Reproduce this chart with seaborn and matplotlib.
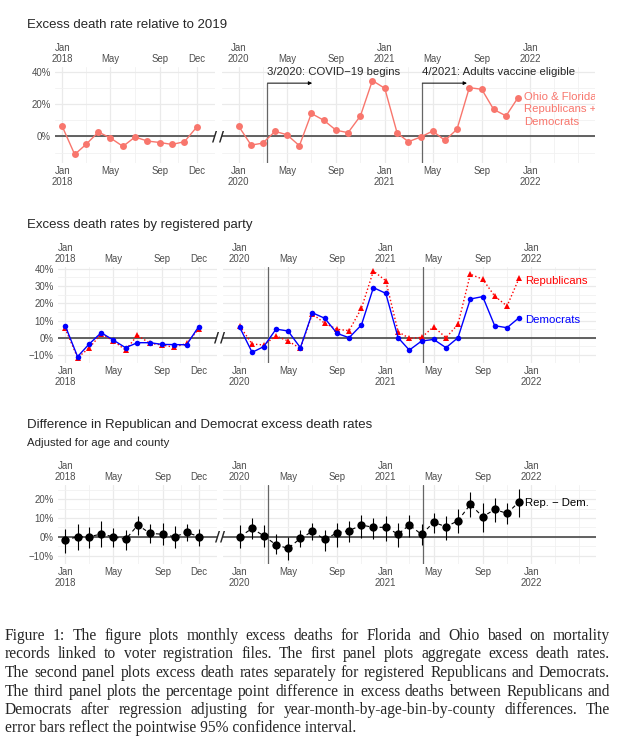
import matplotlib
matplotlib.use("Agg")
import matplotlib.pyplot as plt
import matplotlib.dates as mdates
from matplotlib.transforms import blended_transform_factory, ScaledTranslation
import seaborn as sns
import pandas as pd

W, H = 635, 750

# months shown in the two halves of every panel
months_2018 = pd.date_range("2018-01-01", periods=12, freq="MS")
months_2020 = pd.date_range("2020-01-01", periods=24, freq="MS")

# panel 1: all registered voters, excess deaths vs 2019 (%)
total_2018 = [6.2, -11.2, -5.0, 2.7, -1.0, -6.2, -0.4, -2.9, -3.8, -5.0, -3.3, 5.6]
total_2020 = [6.2, -5.4, -4.2, 3.1, 1.0, -5.8, 14.2, 10.0, 3.8, 2.3, 12.7, 34.6,
              29.8, 2.1, -3.3, -0.4, 3.3, -2.5, 4.4, 30.2, 29.2, 16.7, 12.7, 24.0]

# panel 2: by party (%)
dem_2018 = [7.0, -11.0, -3.9, 2.9, -1.3, -5.8, -2.9, -2.9, -3.9, -4.0, -4.1, 6.4]
rep_2018 = [5.4, -11.6, -6.2, 2.1, -1.7, -7.2, 1.4, -3.3, -4.2, -5.6, -3.3, 5.0]
dem_2020 = [6.0, -8.5, -5.2, 5.0, 3.9, -5.8, 14.5, 11.3, 2.5, 0.0, 7.4, 29.1,
            25.8, 0.0, -7.2, -1.9, -1.0, -5.8, 0.0, 22.5, 23.9, 7.0, 5.8, 11.6]
rep_2020 = [6.8, -3.7, -4.2, 1.0, -1.9, -6.2, 13.8, 8.4, 4.9, 4.1, 17.1, 38.8,
            33.1, 3.5, -0.4, 0.2, 6.4, 0.0, 7.8, 36.9, 34.0, 24.2, 18.4, 34.5]

# panel 3: Rep - Dem difference with 95% CI (pp)
diff_2018 = [-1.8, 0.0, 0.0, 1.4, 0.0, -1.4, 6.2, 1.8, 1.3, 0.0, 2.3, 0.0]
lo_2018 = [-8.5, -7.1, -5.9, -5.3, -5.3, -7.1, 0.9, -3.5, -4.4, -5.9, -2.3, -4.8]
hi_2018 = [4.1, 6.6, 5.0, 8.5, 4.4, 3.5, 11.2, 6.6, 7.1, 5.9, 6.7, 4.1]
diff_2020 = [0.0, 4.4, 0.5, -4.3, -6.2, -0.9, 2.8, -1.4, 2.1, 3.2, 6.2, 5.0,
             5.0, 1.4, 6.2, 1.2, 7.7, 5.3, 8.5, 17.2, 10.6, 14.5, 12.4, 18.5]
lo_2020 = [-6.2, -1.1, -5.3, -9.4, -12.4, -5.7, -1.8, -7.5, -5.3, -3.0, -0.5, -1.2,
           -2.3, -5.3, 0.0, -4.5, 1.8, -1.8, 2.1, 10.3, 2.7, 7.7, 6.6, 10.5]
hi_2020 = [6.2, 9.7, 6.2, 1.6, 0.0, 3.5, 7.1, 3.5, 7.1, 8.2, 11.3, 10.2,
           10.8, 7.1, 11.3, 7.0, 12.8, 10.8, 14.5, 23.6, 18.1, 20.4, 18.1, 25.6]

covid_start = pd.Timestamp("2020-03-13")
vaccine_start = pd.Timestamp("2021-04-05")
arrow_days = 112
arrow_y = 33

left_ticks = ["2018-01-01", "2018-05-01", "2018-09-01", "2018-12-01"]
left_labels = ["Jan\n2018", "May", "Sep", "Dec"]
left_minor = ["2018-03-01", "2018-07-01", "2018-10-16"]
right_ticks = ["2020-01-01", "2020-05-01", "2020-09-01", "2021-01-01",
               "2021-05-01", "2021-09-01", "2022-01-01"]
right_labels = ["Jan\n2020", "May", "Sep", "Jan\n2021", "May", "Sep", "Jan\n2022"]
right_minor = ["2020-03-01", "2020-07-01", "2020-11-01", "2021-03-01",
               "2021-07-01", "2021-11-01", "2022-03-01", "2022-05-01"]
left_lim = ("2017-12-14", "2019-01-16")
right_lim = ("2019-11-20", "2022-06-12")

caption = [
    "Figure 1: The figure plots monthly excess deaths for Florida and Ohio based on mortality",
    "records linked to voter registration files. The first panel plots aggregate excess death rates.",
    "The second panel plots excess death rates separately for registered Republicans and Democrats.",
    "The third panel plots the percentage point difference in excess deaths between Republicans and",
    "Democrats after regression adjusting for year-month-by-age-bin-by-county differences. The",
    "error bars reflect the pointwise 95% confidence interval.",
]

sns.set_style("white")
plt.rcParams["font.family"] = ["Liberation Sans", "DejaVu Sans"]
plt.rcParams["axes.unicode_minus"] = True

TXT = "#4D4D4D"
SALMON = "#F8766D"

fig = plt.figure(figsize=(W / 100, H / 100), dpi=100)


def box(x0, x1, y0, y1):
    return [x0 / W, 1 - y1 / H, (x1 - x0) / W, (y1 - y0) / H]


def dn(d):
    return mdates.date2num(pd.to_datetime(d))


def pct(v):
    return f"{v}%".replace("-", "\u2212")


def style(ax, lim, ticks, labels, minor, ylim, yticks, yminor, ylabels):
    ax.set_xlim(dn(lim[0]), dn(lim[1]))
    ax.set_ylim(*ylim)
    ax.set_xticks(dn(ticks))
    ax.set_xticklabels(labels)
    ax.set_xticks(dn(minor), minor=True)
    ax.set_yticks(yticks)
    ax.set_yticks(yminor, minor=True)
    ax.set_yticklabels([pct(v) for v in yticks] if ylabels else [])
    ax.tick_params(which="both", length=0, labelsize=6.9, labelcolor=TXT)
    ax.tick_params(axis="x", labeltop=True, labelbottom=True, pad=2.3)
    ax.tick_params(axis="y", pad=3)
    for t in ax.xaxis.get_major_ticks():
        t.label1.set_linespacing(1.12)
        t.label2.set_linespacing(1.12)
    ax.grid(which="major", color="#EAEAEA", lw=0.9)
    ax.grid(which="minor", color="#F1F1F1", lw=0.6)
    ax.set_axisbelow(True)
    for s in ax.spines.values():
        s.set_visible(False)
    ax.set_xlabel("")
    ax.set_ylabel("")
    ax.axhline(0, color="#555555", lw=1.3, zorder=1.5)


def breaks(axl, axr):
    for ax, xa in [(axl, 1.0), (axr, 0.0)]:
        tr = blended_transform_factory(ax.transAxes, ax.transData)
        ax.text(xa, 0, "/", transform=tr, ha="center", va="center", fontsize=10,
                fontweight="bold", family="DejaVu Sans", clip_on=False, zorder=5)


def end_label(ax, date, val, text, color, dx, dy, va, ls=1.2):
    tr = ax.transData + ScaledTranslation(dx / 72, dy / 72, fig.dpi_scale_trans)
    ax.text(dn(date), val, text, transform=tr, color=color, fontsize=8.2,
            ha="left", va=va, linespacing=ls, clip_on=True)


# ---------------- panel 1
ylim1 = (-16.5, 43)
a1l = fig.add_axes(box(55, 215, 67, 163))
a1r = fig.add_axes(box(222, 595, 67, 163))
sns.lineplot(x=months_2018, y=total_2018, ax=a1l, color=SALMON, marker="o",
             markersize=5, markeredgewidth=0, lw=1.0)
sns.lineplot(x=months_2020, y=total_2020, ax=a1r, color=SALMON, marker="o",
             markersize=5, markeredgewidth=0, lw=1.0)
style(a1l, left_lim, left_ticks, left_labels, left_minor, ylim1, [0, 20, 40], [-10, 10, 30], True)
style(a1r, right_lim, right_ticks, right_labels, right_minor, ylim1, [0, 20, 40], [-10, 10, 30], False)
breaks(a1l, a1r)
for ev, txt in [(covid_start, "3/2020: COVID\u221219 begins"),
                (vaccine_start, "4/2021: Adults vaccine eligible")]:
    a1r.vlines(dn(ev), ylim1[0], arrow_y, color="#666666", lw=0.9, zorder=1.6)
    a1r.annotate("", xy=(dn(ev + pd.Timedelta(days=arrow_days)), arrow_y),
                 xytext=(dn(ev), arrow_y),
                 arrowprops=dict(arrowstyle="-|>", lw=0.7, color="black",
                                 mutation_scale=5, shrinkA=0, shrinkB=0))
    a1r.text(dn(ev), 40, txt, fontsize=8.2, ha="left", va="center", clip_on=False)
end_label(a1r, months_2020[-1], total_2020[-1],
          "Ohio & Florida\nRepublicans +\nDemocrats", SALMON, 4.3, 4.2, "top", 1.32)
fig.text(27 / W, 1 - 25 / H, "Excess death rate relative to 2019", fontsize=9.5,
         va="center", ha="left")

# ---------------- panel 2
ylim2 = (-14.7, 41.1)
a2l = fig.add_axes(box(58, 217, 267, 363))
a2r = fig.add_axes(box(223, 596, 267, 363))
for ax, x, d, r in [(a2l, months_2018, dem_2018, rep_2018),
                    (a2r, months_2020, dem_2020, rep_2020)]:
    sns.lineplot(x=x, y=r, ax=ax, color="red", marker="^", markersize=4.5,
                 markeredgewidth=0, lw=1.0, linestyle=":")
    sns.lineplot(x=x, y=d, ax=ax, color="blue", marker="o", markersize=4,
                 markeredgewidth=0, lw=1.0)
style(a2l, left_lim, left_ticks, left_labels, left_minor, ylim2,
      [-10, 0, 10, 20, 30, 40], [-5, 5, 15, 25, 35], True)
style(a2r, right_lim, right_ticks, right_labels, right_minor, ylim2,
      [-10, 0, 10, 20, 30, 40], [-5, 5, 15, 25, 35], False)
breaks(a2l, a2r)
for ev in [covid_start, vaccine_start]:
    a2r.axvline(dn(ev), color="#666666", lw=0.9, zorder=1.6)
end_label(a2r, months_2020[-1], rep_2020[-1], "Republicans", "red", 4.3, -1.6, "center")
end_label(a2r, months_2020[-1], dem_2020[-1], "Democrats", "blue", 4.3, -1.4, "center")
fig.text(27 / W, 1 - 225 / H, "Excess death rates by registered party", fontsize=9.5,
         va="center", ha="left")

# ---------------- panel 3
ylim3 = (-14.5, 27.5)
a3l = fig.add_axes(box(58, 217.5, 485, 564))
a3r = fig.add_axes(box(223, 596, 485, 564))
for ax, x, v, lo, hi in [(a3l, months_2018, diff_2018, lo_2018, hi_2018),
                         (a3r, months_2020, diff_2020, lo_2020, hi_2020)]:
    ax.vlines(x, lo, hi, color="black", lw=0.8, zorder=3)
    sns.lineplot(x=x, y=v, ax=ax, color="black", marker="o", markersize=6,
                 markeredgewidth=0, lw=0.8, dashes=False, linestyle=(0, (3.5, 3)))
style(a3l, left_lim, left_ticks, left_labels, left_minor, ylim3,
      [-10, 0, 10, 20], [-5, 5, 15, 25], True)
style(a3r, right_lim, right_ticks, right_labels, right_minor, ylim3,
      [-10, 0, 10, 20], [-5, 5, 15, 25], False)
breaks(a3l, a3r)
for ev in [covid_start, vaccine_start]:
    a3r.axvline(dn(ev), color="#666666", lw=0.9, zorder=1.6)
end_label(a3r, months_2020[-1], diff_2020[-1], "Rep. \u2212 Dem.", "black", 4.3, -0.8, "center")
fig.text(27 / W, 1 - 425 / H, "Difference in Republican and Democrat excess death rates",
         fontsize=9.5, va="center", ha="left")
fig.text(27 / W, 1 - 443 / H, "Adjusted for age and county", fontsize=8.2,
         va="center", ha="left")

# ---------------- caption, justified like the LaTeX source
serif = ["Liberation Serif", "DejaVu Serif"]
cap_left, cap_right = 5, 610
baselines = [640, 658.5, 677, 695.5, 714, 732.5]
fig.canvas.draw()
renderer = fig.canvas.get_renderer()


def width(s, fs):
    t = fig.text(0, 0, s, fontsize=fs, family=serif)
    w = t.get_window_extent(renderer).width
    t.remove()
    return w


fs = 11.6
while max(width(l, fs) for l in caption) > cap_right - cap_left - 6:
    fs -= 0.1

for i, line in enumerate(caption):
    y = 1 - baselines[i] / H
    if i == len(caption) - 1:
        fig.text(cap_left / W, y, line, fontsize=fs, family=serif, va="baseline")
        continue
    words = line.split(" ")
    ws = [width(w, fs) for w in words]
    gap = (cap_right - cap_left - sum(ws)) / (len(words) - 1)
    x = cap_left
    for w, wd in zip(words, ws):
        fig.text(x / W, y, w, fontsize=fs, family=serif, va="baseline")
        x += wd + gap

fig.savefig("out.png", dpi=100)
